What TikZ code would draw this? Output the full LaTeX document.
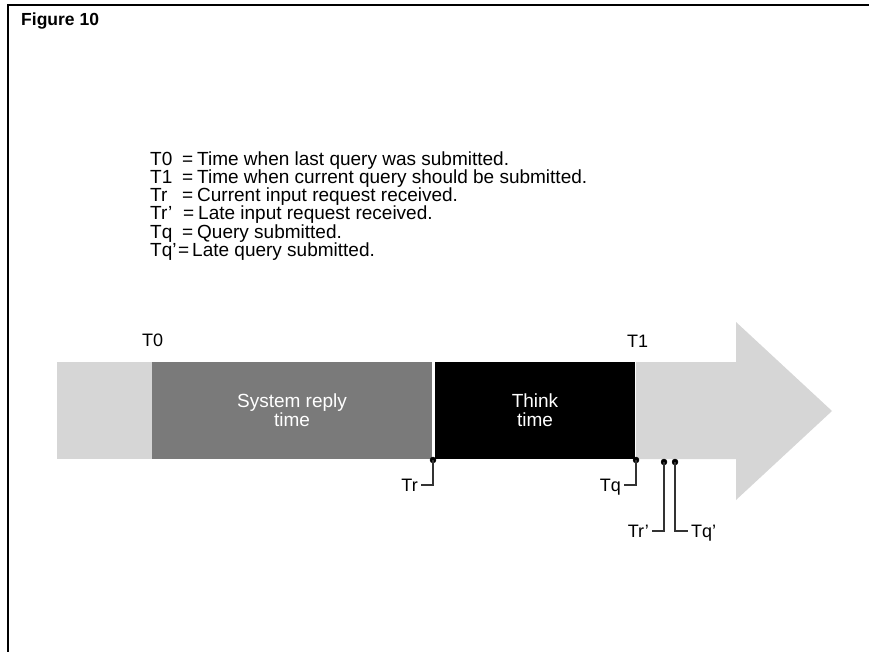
\documentclass[tikz,border=0pt]{standalone}
\usepackage{fontspec}
\setmainfont{Liberation Sans}
\usetikzlibrary{shapes,arrows,calc,positioning}
\definecolor{stipple}{gray}{0.84}
\definecolor{replygray}{gray}{0.48}
\begin{document}
\begin{tikzpicture}[x=1pt,y=-1pt,
  key/.style={anchor=base west,inner sep=0pt,font=\fontsize{19}{18}\selectfont},
  blk/.style={minimum height=97pt,inner sep=0pt,align=center,text=white,font=\fontsize{19}{19}\selectfont},
  pin/.style={circle,draw,fill=black,inner sep=0pt,minimum width=6pt},
  lab/.style={inner sep=3pt,text height=12.9pt,text depth=0pt,font=\fontsize{18}{18}\selectfont},
  lead/.style={line width=1.3pt,black!80}]
\useasboundingbox (0,0) rectangle (869,652);
\draw[line width=1.2pt] (869,5) -- (8,5) -- (8,652);
\node[anchor=base west,inner sep=0pt,font=\bfseries\fontsize{17.5}{19}\selectfont] (fig) at (21,26) {Figure 10};

\foreach \k/\ex/\tx/\d [count=\i] in {T0/182/197/Time when last query was submitted.,
  T1/182/197/Time when current query should be submitted.,
  Tr/182/197/Current input request received.,
  Tr'/183/198/Late input request received.,
  Tq/182/197/Query submitted.,
  Tq'/178/192/Late query submitted.}{
  \node[key] (k\i) at (150,166+18*\i-18) {\k};
  \node[key] (e\i) at (\ex,166+18*\i-18) {=};
  \node[key] (d\i) at (\tx,166+18*\i-18) {\d};
}

\fill[stipple] (57,362) rectangle (152,459);
\fill[stipple] (636,362) -- (736,362) -- (736,322) -- (832,411) -- (736,500) -- (736,459) -- (636,459) -- cycle;
\node[blk,fill=replygray,minimum width=280pt] (reply) at (292,410.5) {System reply\\time};
\node[blk,fill=black,minimum width=200pt] (think) at (535,410.5) {Think\\time};

\node[key,font=\fontsize{18}{18}\selectfont] (t0) at (142,346) {T0};
\node[key,font=\fontsize{18}{18}\selectfont] (t1) at (627,347) {T1};

\node[pin] (tr) at (433,460) {};
\node[pin] (tq) at (636,460) {};
\node[pin] (trl) at (664,462) {};
\node[pin] (tql) at (675,462) {};

\node[lab,anchor=east] (trlab) at (421,485) {Tr};
\node[lab,anchor=east] (tqlab) at (624,485) {Tq};
\node[lab,anchor=east] (trllab) at (652,531) {Tr'};
\node[lab,anchor=west] (tqllab) at (688,531) {Tq'};

\draw[lead] (tr.center) |- (trlab.east);
\draw[lead] (tq.center) |- (tqlab.east);
\draw[lead] (trl.center) |- (trllab.east);
\draw[lead] (tql.center) |- (tqllab.west);
\end{tikzpicture}
\end{document}
